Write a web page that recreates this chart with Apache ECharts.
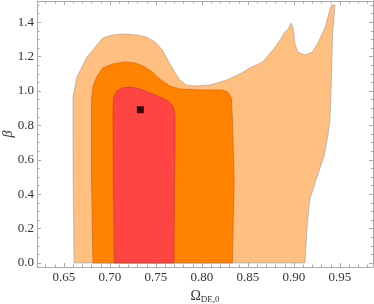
<!DOCTYPE html>
<html><head><meta charset="utf-8">
<script src="https://cdn.jsdelivr.net/npm/echarts@6/dist/echarts.min.js"></script>
<style>html,body{margin:0;padding:0;background:#fff}#c{width:374px;height:304px}</style>
</head><body><div id="c"></div>
<script>
// contour boundaries [Omega_DE0, beta]
const outerContour = [[0.661,0],[0.660,0.483],[0.6598,0.965],[0.664,1.081],[0.675,1.198],[0.685,1.262],[0.692,1.308],[0.703,1.326],[0.716,1.331],[0.729,1.326],[0.740,1.314],[0.749,1.285],[0.757,1.238],[0.764,1.169],[0.771,1.105],[0.776,1.064],[0.783,1.035],[0.792,1.029],[0.809,1.035],[0.827,1.064],[0.841,1.099],[0.852,1.134],[0.866,1.169],[0.877,1.238],[0.885,1.297],[0.890,1.343],[0.893,1.355],[0.897,1.395],[0.899,1.366],[0.901,1.279],[0.904,1.227],[0.912,1.209],[0.920,1.227],[0.926,1.279],[0.934,1.372],[0.939,1.471],[0.941,1.5],[0.9446,1.5],[0.942,1.337],[0.941,1.140],[0.940,0.948],[0.939,0.831],[0.937,0.744],[0.933,0.628],[0.924,0.483],[0.917,0.366],[0.914,0.192],[0.912,0]];
const middleContour = [[0.6815,0],[0.680,0.483],[0.680,0.948],[0.6815,1.023],[0.685,1.076],[0.692,1.134],[0.703,1.157],[0.716,1.169],[0.727,1.163],[0.736,1.145],[0.746,1.110],[0.754,1.070],[0.765,1.029],[0.776,1.012],[0.798,1.006],[0.822,1.006],[0.828,0.994],[0.832,0.959],[0.833,0.849],[0.834,0.657],[0.835,0.483],[0.834,0.250],[0.833,0]];
const innerContour = [[0.7049,0],[0.7038,0.483],[0.7033,0.890],[0.7043,0.965],[0.7076,1.0],[0.713,1.017],[0.7217,1.023],[0.7326,1.012],[0.7435,0.988],[0.7543,0.965],[0.763,0.942],[0.7685,0.913],[0.7707,0.860],[0.7707,0.657],[0.770,0.366],[0.7696,0]];
const bestFit = [[0.733,0.891]];

const xMajor = [0.65,0.70,0.75,0.80,0.85,0.90,0.95];
const xMinor = [0.63,0.64,0.66,0.67,0.68,0.69,0.71,0.72,0.73,0.74,0.76,0.77,0.78,0.79,0.81,0.82,0.83,0.84,0.86,0.87,0.88,0.89,0.91,0.92,0.93,0.94,0.96,0.97,0.98];
const yMajor = [0,0.2,0.4,0.6,0.8,1.0,1.2,1.4];
const yMinor = [0.05,0.1,0.15,0.25,0.3,0.35,0.45,0.5,0.55,0.65,0.7,0.75,0.85,0.9,0.95,1.05,1.1,1.15,1.25,1.3,1.35,1.45,1.5];

const X_MIN = 0.6207, X_MAX = 0.9859, Y_MIN = -0.0233, Y_MAX = 1.5233;
const frame = '#aaaaaa';
const serif = 'Liberation Serif';

function xAx(pos, vals, len, showLabel, showLine) {
  return {type:'value', position:pos, min:X_MIN, max:X_MAX, splitLine:{show:false},
    axisLine:{show:showLine, onZero:false, lineStyle:{color:frame, width:1}},
    axisTick:{show:true, inside:true, length:len, customValues:vals, lineStyle:{color:frame}},
    axisLabel:{show:showLabel, customValues:vals, margin:4, color:'#333', fontFamily:serif, fontSize:13,
      formatter:v=>v.toFixed(2)}};
}
function yAx(pos, vals, len, showLabel, showLine) {
  return {type:'value', position:pos, min:Y_MIN, max:Y_MAX, splitLine:{show:false},
    axisLine:{show:showLine, onZero:false, lineStyle:{color:frame, width:1}},
    axisTick:{show:true, inside:true, length:len, customValues:vals, lineStyle:{color:frame}},
    axisLabel:{show:showLabel, customValues:vals, margin:3, color:'#333', fontFamily:serif, fontSize:13,
      formatter:v=>v.toFixed(1)}};
}

const xAxes = [xAx('bottom', xMajor, 4, true, true), xAx('bottom', xMinor, 2.5, false, false),
               xAx('top', xMajor, 4, false, true), xAx('top', xMinor, 2.5, false, false)];
xAxes[0].name = '{o|Ω}{s|DE,0}';
xAxes[0].nameLocation = 'middle';
xAxes[0].nameGap = 21;
xAxes[0].nameTextStyle = {rich:{o:{fontFamily:serif, fontSize:14, color:'#333', lineHeight:15, verticalAlign:'top'},
  s:{fontFamily:serif, fontSize:9, color:'#333', lineHeight:15, verticalAlign:'bottom', padding:[4,0,0,0]}}};
const yAxes = [yAx('left', yMajor, 4, true, true), yAx('left', yMinor, 2.5, false, false),
               yAx('right', yMajor, 4, false, true), yAx('right', yMinor, 2.5, false, false)];
yAxes[0].name = 'β';
yAxes[0].nameLocation = 'middle';
yAxes[0].nameGap = 22;
yAxes[0].nameMoveOverlap = false;
yAxes[0].nameTextStyle = {fontFamily:serif, fontStyle:'italic', fontSize:14, color:'#333'};

function polySeries(arr, fill, stroke) {
  return {type:'custom', xAxisIndex:0, yAxisIndex:0, clip:true, silent:true, data:arr,
    renderItem:function(params, api){
      if (params.dataIndex !== 0) return null;
      const pts = arr.map(p => api.coord(p));
      return {type:'polygon', shape:{points:pts}, style:{fill:fill, stroke:stroke, lineWidth:0.8}};
    }};
}

const chart = echarts.init(document.getElementById('c'), null, {renderer:'canvas'});
chart.setOption({
  animation:false,
  grid:{left:37, right:1, top:1, bottom:37, containLabel:false, outerBoundsMode:'none'},
  xAxis:xAxes, yAxis:yAxes,
  series:[
    polySeries(outerContour, '#FEBF80', 'rgba(150,150,150,0.7)'),
    polySeries(middleContour, '#FF8200', 'rgba(200,100,20,0.8)'),
    polySeries(innerContour, '#FF4444', 'rgba(190,60,40,0.8)'),
    {type:'scatter', xAxisIndex:0, yAxisIndex:0, data:bestFit, symbol:'rect', symbolSize:7,
     itemStyle:{color:'#000'}, silent:true}
  ]
});
</script></body></html>
